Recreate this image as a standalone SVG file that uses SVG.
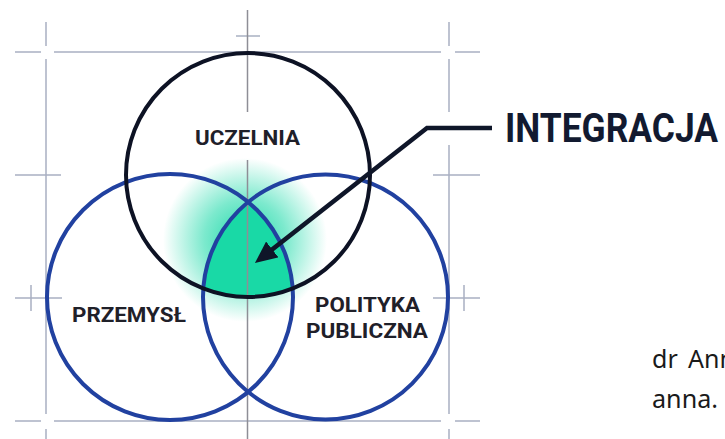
<svg xmlns="http://www.w3.org/2000/svg" width="725" height="439" viewBox="0 0 725 439">
  <style>
    .grid { stroke: #a9b0c2; stroke-width: 1.5; fill: none; }
    .axis { stroke: #8e8e96; stroke-width: 1.5; fill: none; }
    .ring-dark { fill: none; stroke: #0d1224; stroke-width: 4; }
    .ring-blue { fill: none; stroke: #2141a0; stroke-width: 4; }
    .lbl { font-family: Roboto, "Liberation Sans", Arial, sans-serif; font-weight: 700; fill: #1f2029; font-size: 21px; text-anchor: middle; }
    .big { font-family: Roboto, "Liberation Sans", Arial, sans-serif; font-weight: 700; fill: #121a30; font-size: 40px; }
    .note { font-family: "Noto Sans", "Open Sans", "Liberation Sans", sans-serif; fill: #1a1a1a; font-size: 25px; }
    .conn { fill: none; stroke: #0f1629; stroke-width: 4.5; stroke-linejoin: miter; }
  </style>
  <defs>
    <radialGradient id="glow" cx="245" cy="240" r="82" gradientUnits="userSpaceOnUse">
      <stop offset="0" stop-color="#12d8a5" stop-opacity="0.95"/>
      <stop offset="0.5" stop-color="#12d8a5" stop-opacity="0.55"/>
      <stop offset="1" stop-color="#12d8a5" stop-opacity="0"/>
    </radialGradient>
    <marker id="arrowhead" viewBox="0 0 22 20" refX="10" refY="10" markerWidth="22" markerHeight="20" markerUnits="userSpaceOnUse" orient="auto">
      <path d="M0,0 L22,10 L0,20 Z" fill="#0f1629"/>
    </marker>
  </defs>

  <rect width="725" height="439" fill="#ffffff"/>

  <!-- glow and integration lens -->
  <circle cx="245" cy="240" r="82" fill="url(#glow)"/>
  <path d="M247.75,201.5 A123,123 0 0 1 292.7,288.4 A122,122 0 0 1 203.3,288.4 A123,123 0 0 1 247.75,201.5 Z" fill="#19d9a6"/>

  <!-- guide lines -->
  <g id="guides">
    <path class="grid" d="M15,52H41 M54,52H441 M455,52H480"/>
    <path class="grid" d="M15,421H41 M54,421H441 M455,421H480"/>
    <path class="grid" d="M46,22V46 M46,59V414 M46,429V439"/>
    <path class="grid" d="M449,22V46 M449,59V112 M449,145V414 M449,429V439"/>
    <path class="grid" d="M15,175H61 M433,175H480"/>
    <path class="grid" d="M15,298H62 M433,298H480 M31,285V311 M464,285V311"/>
    <path class="grid" d="M236,36H260"/>
    <path class="axis" d="M247.5,10V112 M247.5,160V439"/>
  </g>

  <!-- nodes -->
  <g id="przemysl">
    <circle class="ring-blue" cx="170" cy="297" r="123"/>
    <text class="lbl" x="129" y="322" textLength="114" lengthAdjust="spacingAndGlyphs">PRZEMYSŁ</text>
  </g>
  <g id="polityka-publiczna">
    <circle class="ring-blue" cx="325.5" cy="297" r="122.5"/>
    <text class="lbl" x="367.5" y="312" textLength="105" lengthAdjust="spacingAndGlyphs">POLITYKA</text>
    <text class="lbl" x="367" y="338" textLength="122" lengthAdjust="spacingAndGlyphs">PUBLICZNA</text>
  </g>
  <g id="uczelnia">
    <circle class="ring-dark" cx="248" cy="175" r="122"/>
    <text class="lbl" x="247.5" y="145" textLength="105" lengthAdjust="spacingAndGlyphs">UCZELNIA</text>
  </g>

  <!-- connectors -->
  <g id="connectors">
    <polyline class="conn" points="492,128 427,128 264.4,255.6" marker-end="url(#arrowhead)"/>
  </g>

  <g id="integracja">
    <text class="big" x="505" y="142" textLength="213" lengthAdjust="spacingAndGlyphs">INTEGRACJA</text>
  </g>

  <g id="author">
    <text class="note" x="652" y="368">dr <tspan x="688">Ann</tspan></text>
    <text class="note" x="652" y="408" textLength="66" lengthAdjust="spacingAndGlyphs">anna.</text>
  </g>
</svg>
